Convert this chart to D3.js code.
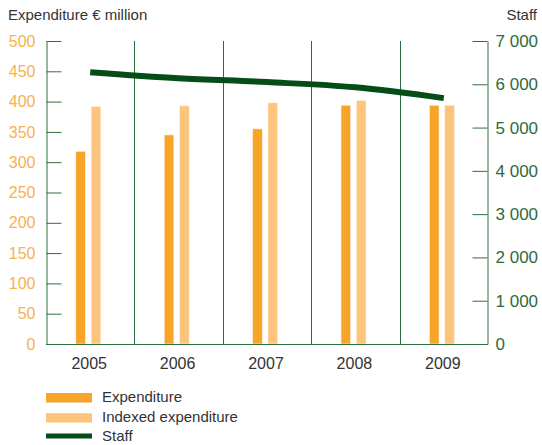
<!DOCTYPE html>
<html>
<head>
<meta charset="utf-8">
<script src="https://cdn.jsdelivr.net/npm/d3@7"></script>
<style>
  html, body { margin: 0; padding: 0; background: #fff; }
  svg { display: block; font-family: "Liberation Sans", Arial, sans-serif; }
</style>
</head>
<body>
<svg id="chart" width="542" height="445"></svg>
<script>
// ── Data ────────────────────────────────────────────────────────────────────
const years = ['2005', '2006', '2007', '2008', '2009'];
const expenditure = [318, 345, 355, 394, 394];          // € million
const indexedExpenditure = [392, 393, 398, 402, 394];   // € million
const staff = [6280, 6140, 6050, 5930, 5680];           // headcount
const leftTicks = [0, 50, 100, 150, 200, 250, 300, 350, 400, 450, 500];
const rightTicks = [0, 1000, 2000, 3000, 4000, 5000, 6000, 7000];

// ── Look ────────────────────────────────────────────────────────────────────
const COL_EXP = '#f7a429', COL_IDX = '#fdc47d', COL_STAFF = '#044d17';
const COL_AXIS = '#2f6e3c', COL_LEFT_LABEL = '#f8b14e', COL_RIGHT_LABEL = '#2e6b3c';
const COL_TEXT = '#333333';

const PLOT_LEFT = 46, PLOT_RIGHT = 488, PLOT_TOP = 41, PLOT_BOTTOM = 344;

const svg = d3.select('#chart');
const fmtStaff = d3.formatLocale({ decimal: ',', thousands: ' ', grouping: [3], currency: ['', ''] }).format(',');

const x = d3.scaleBand().domain(years).range([PLOT_LEFT, PLOT_RIGHT]);
// two bars per year, a little left of the band centre
const xInner = d3.scaleBand().domain(['exp', 'idx'])
  .range([x.bandwidth() / 2 - 14.4, x.bandwidth() / 2 + 10.6]).paddingInner(0.37);
const yLeft = d3.scaleLinear().domain([0, 500]).range([PLOT_BOTTOM, PLOT_TOP]);
const yRight = d3.scaleLinear().domain([0, 7000]).range([PLOT_BOTTOM, PLOT_TOP]);

// vertical separators between the years
svg.append('g').selectAll('line').data(years.slice(1)).join('line')
  .attr('x1', d => Math.round(x(d)) + 0.5).attr('x2', d => Math.round(x(d)) + 0.5)
  .attr('y1', PLOT_TOP).attr('y2', PLOT_BOTTOM)
  .attr('stroke', COL_AXIS).attr('stroke-width', 1);

// bars
const seriesRows = years.map((year, i) => ({ year, exp: expenditure[i], idx: indexedExpenditure[i] }));
const yearGroups = svg.append('g').selectAll('g').data(seriesRows).join('g')
  .attr('transform', d => `translate(${x(d.year)},0)`);
yearGroups.selectAll('rect').data(d => [['exp', d.exp], ['idx', d.idx]]).join('rect')
  .attr('x', d => xInner(d[0])).attr('width', xInner.bandwidth())
  .attr('y', d => yLeft(d[1])).attr('height', d => PLOT_BOTTOM - yLeft(d[1]))
  .attr('fill', d => d[0] === 'exp' ? COL_EXP : COL_IDX)
  .attr('stroke', '#fff3e0').attr('stroke-width', 0.6);

// staff line
const staffLine = d3.line()
  .x((d, i) => x(years[i]) + x.bandwidth() / 2)
  .y(d => yRight(d))
  .curve(d3.curveMonotoneX);
svg.append('path').datum(staff)
  .attr('d', staffLine).attr('fill', 'none')
  .attr('stroke', COL_STAFF).attr('stroke-width', 6);

// axes
const leftAxis = svg.append('g').attr('transform', `translate(${PLOT_LEFT + 0.5},0)`)
  .call(d3.axisLeft(yLeft).tickValues(leftTicks).tickSize(-15).tickPadding(11).tickSizeOuter(0));
leftAxis.selectAll('line, path').attr('stroke', COL_AXIS);
leftAxis.selectAll('text').attr('fill', COL_LEFT_LABEL).attr('font-size', 16)
  .attr('font-family', '"Liberation Sans", Arial, sans-serif');

const rightAxis = svg.append('g').attr('transform', `translate(${PLOT_RIGHT - 0.5},0)`)
  .call(d3.axisRight(yRight).tickValues(rightTicks).tickSize(-15).tickPadding(8).tickSizeOuter(0).tickFormat(fmtStaff));
rightAxis.selectAll('line, path').attr('stroke', COL_AXIS);
rightAxis.selectAll('text').attr('fill', COL_RIGHT_LABEL).attr('font-size', 17)
  .attr('font-family', '"Liberation Sans", Arial, sans-serif');

// baseline
svg.append('line')
  .attr('x1', PLOT_LEFT).attr('x2', PLOT_RIGHT)
  .attr('y1', PLOT_BOTTOM + 0.5).attr('y2', PLOT_BOTTOM + 0.5)
  .attr('stroke', COL_AXIS);

// year labels
svg.append('g').selectAll('text').data(years).join('text')
  .attr('x', d => x(d) + x.bandwidth() / 2 - 1).attr('y', 369)
  .attr('text-anchor', 'middle').attr('font-size', 16).attr('fill', COL_TEXT)
  .text(d => d);

// axis titles
svg.append('text').attr('x', 8).attr('y', 20).attr('font-size', 15).attr('fill', COL_TEXT)
  .text('Expenditure € million');
svg.append('text').attr('x', 537).attr('y', 20).attr('text-anchor', 'end')
  .attr('font-size', 15).attr('fill', COL_TEXT).text('Staff');

// legend (kept just inside the bottom edge so "Staff" is not clipped)
const legendItems = [
  { label: 'Expenditure', color: COL_EXP, y: 393, h: 9.5 },
  { label: 'Indexed expenditure', color: COL_IDX, y: 413.2, h: 9.3 },
  { label: 'Staff', color: COL_STAFF, y: 433.5, h: 5 },
];
const legend = svg.append('g').selectAll('g').data(legendItems).join('g');
legend.append('rect')
  .attr('x', 46).attr('y', d => d.y).attr('width', 46).attr('height', d => d.h)
  .attr('fill', d => d.color);
legend.append('text')
  .attr('x', 102).attr('y', d => d.label === 'Staff' ? d.y + 7 : d.y + 8.5)
  .attr('font-size', 15).attr('fill', COL_TEXT)
  .text(d => d.label);
</script>
</body>
</html>
